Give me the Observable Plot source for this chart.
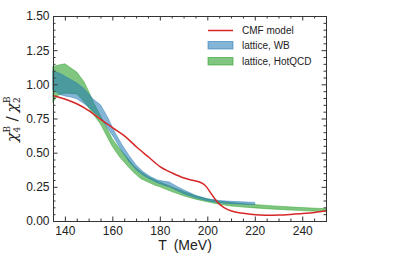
<!DOCTYPE html>
<html><head><meta charset="utf-8">
<script src="https://cdn.jsdelivr.net/npm/d3@7"></script>
<script src="https://cdn.jsdelivr.net/npm/@observablehq/plot@0.6"></script>
<style>body{margin:0;background:#fff;} #chart svg{display:block;}</style>
</head><body><div id="chart"></div>
<script>
// ---- data ----
const T_cmf   = [135,140,145,150,155,160,165,170,175,180,185,190,194,197,199,201,203,205,207,210,214,218,222,226,230,235,240,245,250];
const chi_cmf = [0.92,0.895,0.86,0.81,0.745,0.685,0.625,0.545,0.472,0.40,0.355,0.318,0.30,0.285,0.262,0.215,0.165,0.125,0.10,0.077,0.062,0.053,0.047,0.045,0.047,0.052,0.058,0.066,0.078];

const T_wb  = [135,138,140,143,145,148,150,152,155,158,161,164,167,170,173,176,179,182,184,187,190,195,200,205,210,215,220];
const wb_hi = [1.10,1.08,1.06,1.03,1.01,0.97,0.93,0.89,0.85,0.76,0.65,0.56,0.48,0.41,0.36,0.325,0.30,0.29,0.285,0.255,0.228,0.188,0.162,0.15,0.144,0.14,0.136];
const wb_lo = [0.96,0.925,0.915,0.905,0.895,0.86,0.835,0.80,0.76,0.68,0.60,0.51,0.435,0.375,0.335,0.305,0.28,0.26,0.25,0.225,0.20,0.17,0.148,0.133,0.127,0.123,0.12];

const T_hot  = [135,137,140,145,148,150,152,155,158,160,163,166,169,172,175,178,180,185,190,195,200,205,210,215,220,225,230,240,250];
const hot_hi = [1.13,1.14,1.15,1.09,1.02,0.95,0.87,0.77,0.67,0.60,0.53,0.47,0.405,0.36,0.325,0.30,0.285,0.25,0.215,0.185,0.162,0.145,0.135,0.127,0.12,0.114,0.108,0.098,0.09];
const hot_lo = [0.87,0.92,0.935,0.93,0.875,0.83,0.78,0.71,0.61,0.545,0.47,0.41,0.355,0.31,0.285,0.262,0.25,0.215,0.185,0.16,0.14,0.123,0.11,0.102,0.096,0.09,0.085,0.076,0.068];

const xMajor = [140,160,180,200,220,240];
const xMinor = [145,150,155,165,170,175,185,190,195,205,210,215,225,230,235,245];
const yMajor = [0,0.25,0.5,0.75,1.0,1.25,1.5];
const yMinor = [0.05,0.1,0.15,0.2,0.3,0.35,0.4,0.45,0.55,0.6,0.65,0.7,0.8,0.85,0.9,0.95,1.05,1.1,1.15,1.2,1.3,1.35,1.4,1.45];

const legendLabels = ["CMF model","lattice, WB","lattice, HotQCD"];
const xLabel = "T\u2002(MeV)";

// ---- rows ----
const cmfRows = T_cmf.map((T,i)=>({T, v: chi_cmf[i]}));
const wbRows  = T_wb.map((T,i)=>({T, lo: wb_lo[i], hi: wb_hi[i]}));
const hotRows = T_hot.map((T,i)=>({T, lo: hot_lo[i], hi: hot_hi[i]}));

const RED="#d62728", BLUE="#1f77b4", GREEN="#2ca02c";
const FONT="'Liberation Sans', Arial, Helvetica, sans-serif";
const W=407, H=271, mL=53, mR=81, mT=16, mB=50;
const iw=W-mL-mR, ih=H-mT-mB;
const axisCol="#333";

const plot = Plot.plot({
  width: W, height: H,
  marginLeft: mL, marginRight: mR, marginTop: mT, marginBottom: mB,
  style: {fontFamily: FONT, fontSize: "12px", color: "#222", background: "#fff"},
  x: {domain: [135,250], label: null},
  y: {domain: [0,1.5], label: null},
  marks: [
    Plot.areaY(hotRows, {x:"T", y1:"lo", y2:"hi", fill:GREEN, fillOpacity:0.6, stroke:GREEN, strokeOpacity:0.6, strokeWidth:0.8}),
    Plot.areaY(wbRows, {x:"T", y1:"lo", y2:"hi", fill:BLUE, fillOpacity:0.55, stroke:BLUE, strokeOpacity:0.55, strokeWidth:0.8}),
    Plot.line(cmfRows, {x:"T", y:"v", stroke:RED, strokeWidth:1.5, curve:"catmull-rom"}),
    // inward ticks on all four sides
    Plot.tickX(xMajor, {insetTop: ih-4.5, stroke: axisCol}),
    Plot.tickX(xMinor, {insetTop: ih-2.5, stroke: axisCol}),
    Plot.tickX(xMajor, {insetBottom: ih-4.5, stroke: axisCol}),
    Plot.tickX(xMinor, {insetBottom: ih-2.5, stroke: axisCol}),
    Plot.tickY(yMajor, {insetRight: iw-4.5, stroke: axisCol}),
    Plot.tickY(yMinor, {insetRight: iw-2.5, stroke: axisCol}),
    Plot.tickY(yMajor, {insetLeft: iw-4.5, stroke: axisCol}),
    Plot.tickY(yMinor, {insetLeft: iw-2.5, stroke: axisCol}),
    Plot.axisX(xMajor, {tickSize: 0, tickPadding: 5, label: null, fontSize: 12}),
    Plot.axisY(yMajor, {tickSize: 0, tickPadding: 4, label: null, fontSize: 12, tickFormat: d3.format(".2f")}),
    Plot.frame({stroke: axisCol})
  ]
});
document.getElementById("chart").appendChild(plot);

const svg = d3.select(plot);
// legend
const lg = svg.append("g").attr("font-family", FONT).attr("font-size", 10).attr("fill", "#222").attr("text-anchor","start");
lg.append("line").attr("x1",208).attr("x2",233).attr("y1",30.5).attr("y2",30.5).attr("stroke",RED).attr("stroke-width",1.5);
lg.append("rect").attr("x",208).attr("y",41.5).attr("width",25).attr("height",7.5)
  .attr("fill",BLUE).attr("fill-opacity",0.55).attr("stroke",BLUE).attr("stroke-opacity",0.55);
lg.append("rect").attr("x",208).attr("y",57.5).attr("width",25).attr("height",7.5)
  .attr("fill",GREEN).attr("fill-opacity",0.6).attr("stroke",GREEN).attr("stroke-opacity",0.6);
[30.5, 45.3, 61.3].forEach((y,i)=>{
  lg.append("text").attr("x",242).attr("y",y).attr("dy","0.36em").text(legendLabels[i]);
});
// x label
svg.append("text").attr("x",185).attr("y",249.5).attr("text-anchor","middle")
  .attr("font-family",FONT).attr("font-size",14).attr("fill","#222").text(xLabel);
// y label  chi_4^B / chi_2^B  (rotated)
const yl = svg.append("g").attr("transform","translate(0,114) rotate(-90)").attr("text-anchor","start")
  .attr("font-family","'DejaVu Serif', 'Liberation Serif', serif").attr("fill","#222");
const main = 15.5, scr = 9, base = 17;
const parts = [
  {t:"\u03c7", x:-28, y:base, s:main, it:true},
  {t:"4", x:-18.5, y:base+2.5, s:scr},
  {t:"B", x:-18.5, y:base-7, s:scr},
  {t:"/", x:-7.5, y:base, s:main},
  {t:"\u03c7", x:1.5, y:base, s:main, it:true},
  {t:"2", x:11, y:base+2.5, s:scr},
  {t:"B", x:11, y:base-7, s:scr}
];
parts.forEach(p=>{
  yl.append("text").attr("x",p.x).attr("y",p.y).attr("font-size",p.s)
    .attr("font-style", p.it ? "italic" : "normal").text(p.t);
});
</script></body></html>
